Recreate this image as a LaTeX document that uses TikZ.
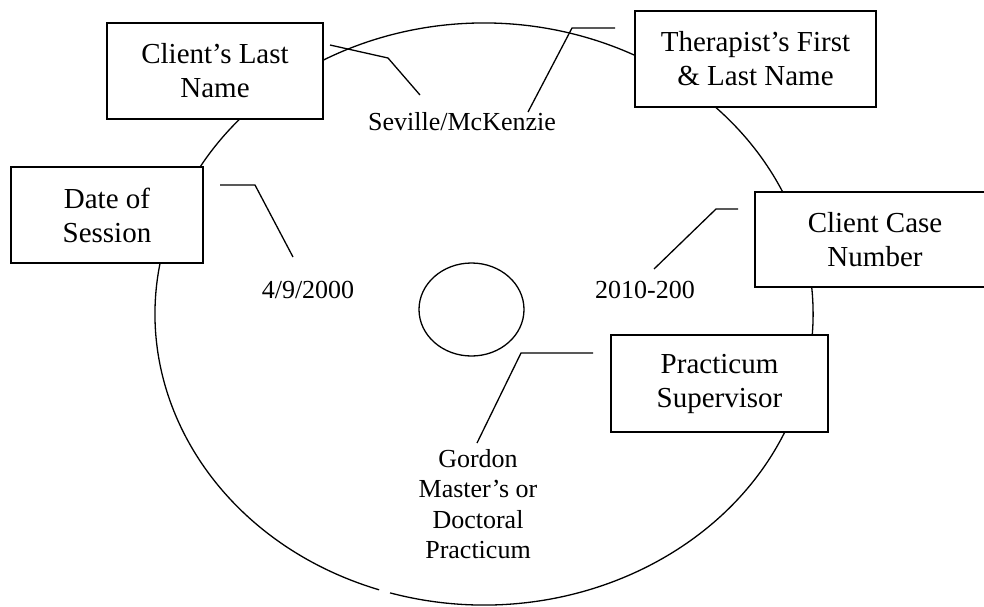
\documentclass[tikz,border=0pt]{standalone}
\usepackage{fontspec}
\setmainfont{Liberation Serif}
\tikzset{
  boxnode/.style={draw, fill=white, line width=1.4pt, inner sep=0pt, align=center,
    font=\fontsize{29}{34}\selectfont},
  labelnode/.style={inner sep=0pt, align=center, font=\fontsize{26}{30.5}\selectfont},
  leader/.style={line width=1.3pt},
  disc/.style={line width=1.3pt}
}
\begin{document}
\begin{tikzpicture}[x=1pt,y=-1pt]
\useasboundingbox (0,0) rectangle (984,606);
\clip (0,0) rectangle (984,606);
% disc outline with small break at the bottom
\draw[disc] (379.1,589.8) arc[start angle=108.6, end angle=466.6, x radius=329, y radius=291];
% centre hole
\draw[disc] (471.5,309.5) ellipse[x radius=52.5, y radius=46.5];
% boxes
\node[boxnode, minimum width=216pt, minimum height=96pt] (cln) at (215,71) {Client’s Last\\Name};
\node[boxnode, minimum width=192pt, minimum height=96pt] (dos) at (107,215) {Date of\\Session};
\node[boxnode, minimum width=241pt, minimum height=96pt] (tfl) at (755.5,59) {Therapist’s First\\\& Last Name};
\node[boxnode, minimum width=240pt, minimum height=95pt] (ccn) at (875,239.5) {Client Case\\Number};
\node[boxnode, minimum width=217pt, minimum height=97pt] (ps) at (719.5,383.5) {Practicum\\Supervisor};
% labels
\node[labelnode] (sev) at (462,122) {Seville/McKenzie};
\node[labelnode] (dat) at (308,290) {4/9/2000};
\node[labelnode] (num) at (645,290) {2010-200};
\node[labelnode] (gor) at (478,504) {Gordon\\Master’s or\\Doctoral\\Practicum};
% leader line points
\coordinate (a1) at (330,45);  \coordinate (a2) at (388,58);  \coordinate (a3) at (420,95);
\coordinate (b1) at (615,28);  \coordinate (b2) at (572,28);  \coordinate (b3) at (528,112);
\coordinate (c1) at (220,185); \coordinate (c2) at (255,185); \coordinate (c3) at (293,257);
\coordinate (d1) at (738,209); \coordinate (d2) at (716,209); \coordinate (d3) at (654,269);
\coordinate (e1) at (593,353); \coordinate (e2) at (521,353); \coordinate (e3) at (477,443);
\draw[leader] (a1) -- (a2) -- (a3);
\draw[leader] (b1) -- (b2) -- (b3);
\draw[leader] (c1) -- (c2) -- (c3);
\draw[leader] (d1) -- (d2) -- (d3);
\draw[leader] (e1) -- (e2) -- (e3);
\end{tikzpicture}
\end{document}
